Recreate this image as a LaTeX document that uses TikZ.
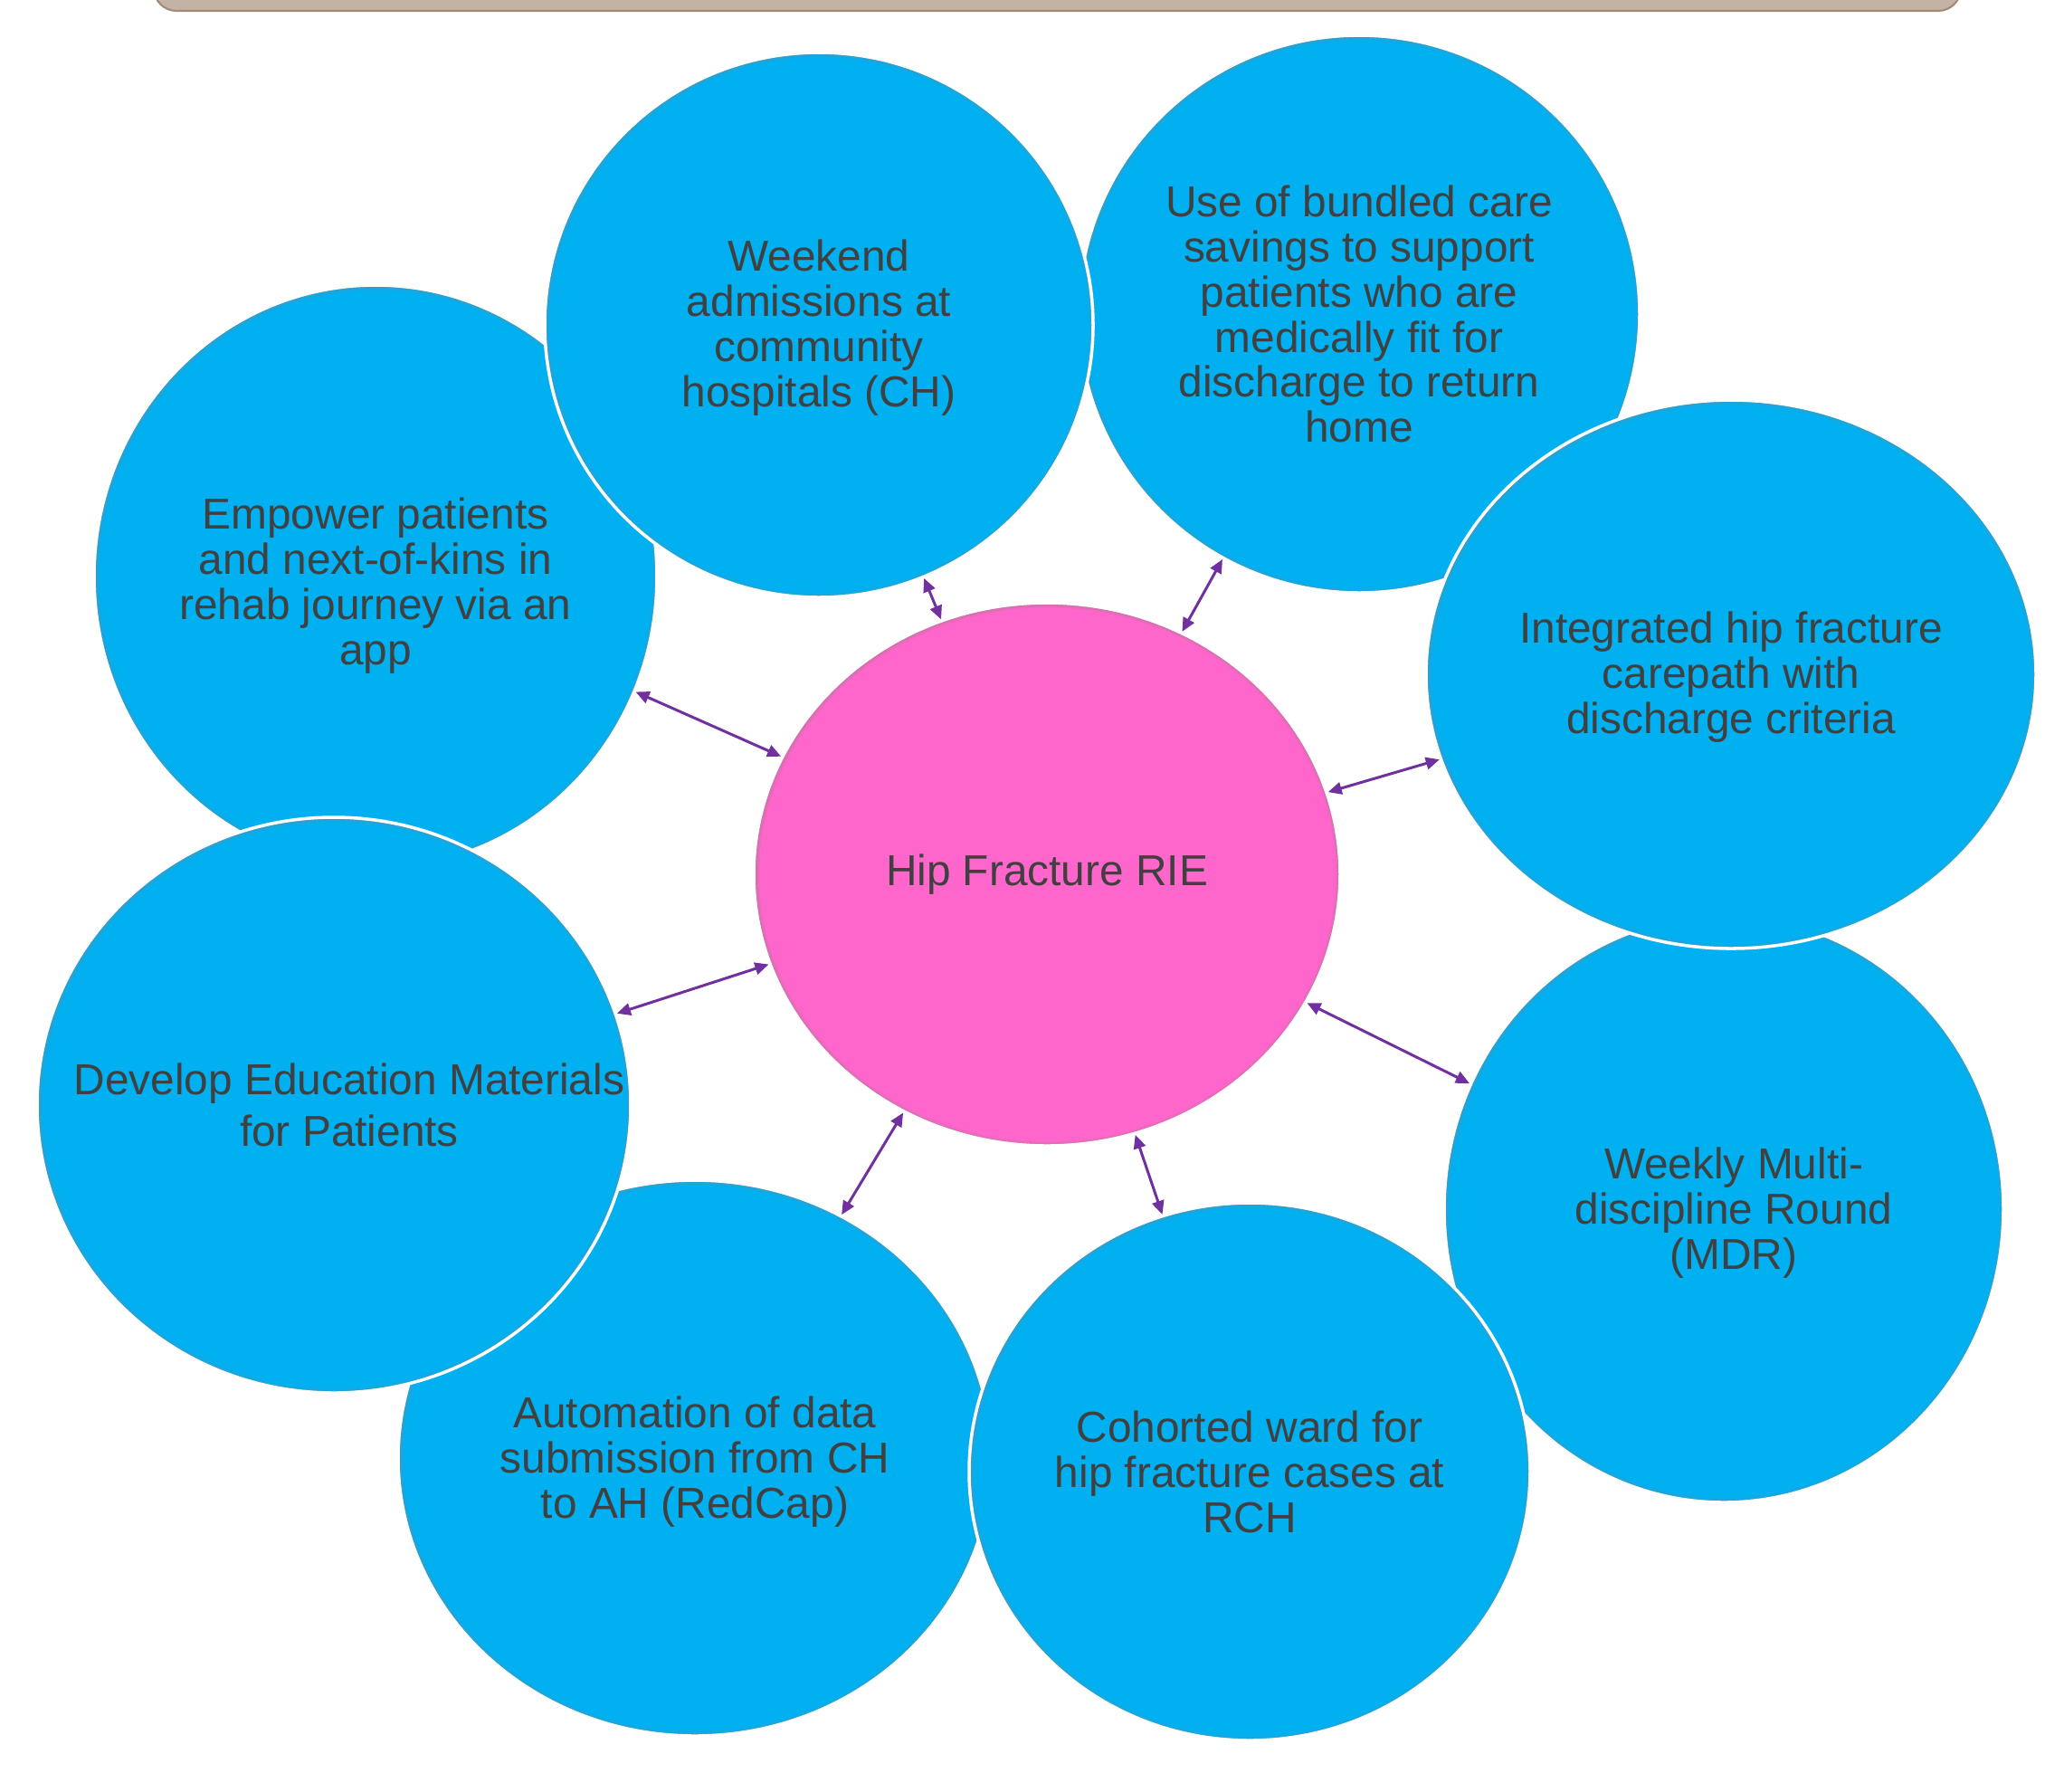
\documentclass[tikz,border=0pt]{standalone}
\usepackage{fontspec}
\setmainfont{Liberation Sans}
\usepackage{tikz}
\usetikzlibrary{arrows.meta, shapes.geometric, positioning}
\definecolor{bubblue}{HTML}{00B0F0}
\definecolor{bubrim}{HTML}{3A9AC6}
\definecolor{hubpink}{HTML}{FF66CC}
\definecolor{hubrim}{HTML}{C2739F}
\definecolor{linkpurple}{HTML}{7030A0}
\definecolor{txtgray}{HTML}{404040}
\definecolor{bartan}{HTML}{C4B3A4}
\definecolor{baredge}{HTML}{A08B78}
\pgfdeclareradialshading{blueball}{\pgfpoint{0bp}{0bp}}{color(0bp)=(bubblue); color(24.5bp)=(bubblue); color(25bp)=(bubrim); color(50bp)=(bubrim)}
\pgfdeclareradialshading{pinkball}{\pgfpoint{0bp}{0bp}}{color(0bp)=(hubpink); color(24.5bp)=(hubpink); color(25bp)=(hubrim); color(50bp)=(hubrim)}

\begin{document}
\begin{tikzpicture}[
    bubble/.style={ellipse, shade, shading=blueball, draw=white, line width=1pt, inner sep=0pt},
    hub/.style={bubble, shading=pinkball},
    lbl/.style={font=\fontsize{13.6}{14.2}\selectfont, text=txtgray, align=center},
    link/.style={{Triangle[length=4.3pt,width=3.8pt]}-{Triangle[length=4.3pt,width=3.8pt]},
                 line width=0.85pt, color=linkpurple},
  ]
  \useasboundingbox (0,0) rectangle (22.6,-19.79);
  \clip (0,0) rectangle (22.6,-19.79);
  % title bar, cut at the top
  \fill[bartan, draw=baredge, line width=0.6pt, rounded corners=0.25cm] (1.70,0.5) rectangle (21.67,-0.12);

  \node[hub, minimum width=6.48cm, minimum height=6.00cm,
        label={[lbl]center:Hip Fracture RIE}] (rie) at (11.57,-9.66) {};

  \node[bubble, minimum width=6.22cm, minimum height=6.44cm,
        label={[lbl, yshift=-0.10cm]center:{Empower patients\\and next-of-kins in\\rehab journey via an\\app}}] (empower) at (4.15,-6.37) {};
  \node[bubble, minimum width=6.20cm, minimum height=6.16cm,
        label={[lbl]center:{Use of bundled care\\savings to support\\patients who are\\medically fit for\\discharge to return\\home}}] (bundled) at (15.02,-3.47) {};
  \node[bubble, minimum width=6.06cm, minimum height=6.02cm,
        label={[lbl, yshift=-0.03cm]center:{Weekend\\admissions at\\community\\hospitals (CH)}}] (weekend) at (9.05,-3.59) {};
  \node[bubble, minimum width=6.18cm, minimum height=6.48cm,
        label={[lbl, xshift=0.11cm, yshift=-0.04cm]center:{Weekly Multi-\\discipline Round\\(MDR)}}] (mdr) at (19.05,-13.36) {};
  \node[bubble, minimum width=6.74cm, minimum height=6.06cm,
        label={[lbl, yshift=-0.03cm]center:{Integrated hip fracture\\carepath with\\discharge criteria}}] (carepath) at (19.13,-7.45) {};
  \node[bubble, minimum width=6.56cm, minimum height=6.14cm,
        label={[lbl, yshift=-0.04cm]center:{Automation of data\\submission from CH\\to AH (RedCap)}}] (redcap) at (7.68,-16.11) {};
  \node[bubble, minimum width=6.20cm, minimum height=5.94cm,
        label={[lbl]center:{Cohorted ward for\\hip fracture cases at\\RCH}}] (cohort) at (13.81,-16.26) {};
  \node[bubble, minimum width=6.56cm, minimum height=6.36cm,
        label={[lbl, xshift=0.17cm]center:{Develop Education Materials\\[1.8pt]for Patients}}] (edu) at (3.69,-12.21) {};

  \draw[link] (rie) -- (weekend);
  \draw[link] (rie) -- (bundled);
  \draw[link] (rie) -- (empower);
  \draw[link] (rie) -- (carepath);
  \draw[link] (rie) -- (edu);
  \draw[link] (rie) -- (mdr);
  \draw[link] (rie) -- (redcap);
  \draw[link] (rie) -- (cohort);
\end{tikzpicture}
\end{document}
